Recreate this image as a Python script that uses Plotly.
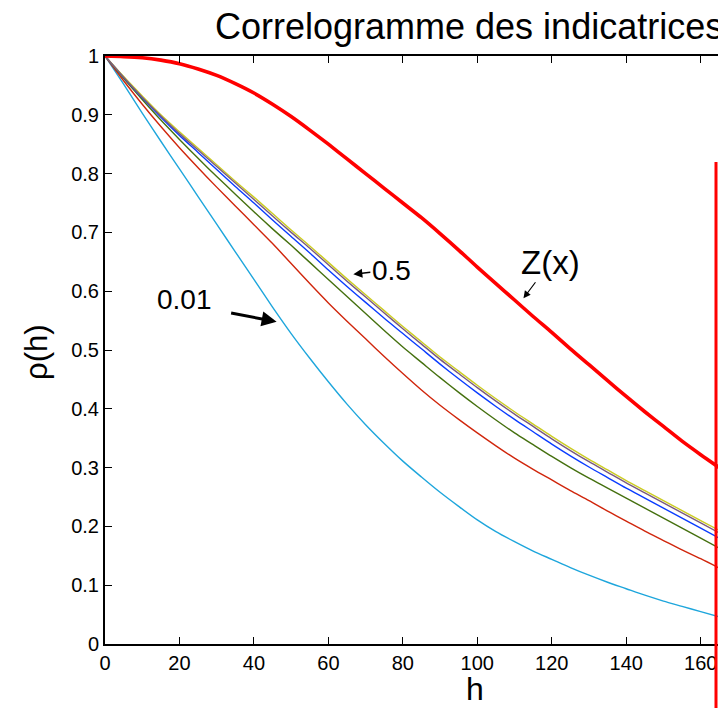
import plotly.graph_objects as go

h = list(range(0, 170, 5))

z_x = [1.0, 0.999, 0.997, 0.993, 0.987, 0.978, 0.967, 0.953, 0.937, 0.918, 0.897, 0.874,
       0.850, 0.825, 0.800, 0.775, 0.750, 0.725, 0.698, 0.670, 0.641, 0.613, 0.585, 0.557,
       0.530, 0.502, 0.475, 0.448, 0.421, 0.395, 0.370, 0.345, 0.322, 0.300]

ind_050 = [1.0, 0.965, 0.932, 0.900, 0.871, 0.843, 0.815, 0.787, 0.760, 0.732, 0.704, 0.677,
           0.649, 0.621, 0.594, 0.567, 0.540, 0.514, 0.488, 0.464, 0.440, 0.417, 0.395, 0.374,
           0.353, 0.333, 0.314, 0.296, 0.278, 0.261, 0.244, 0.227, 0.210, 0.193]

ind_040 = [1.0, 0.964, 0.930, 0.898, 0.868, 0.840, 0.812, 0.784, 0.756, 0.728, 0.700, 0.673,
           0.645, 0.617, 0.590, 0.563, 0.536, 0.510, 0.484, 0.460, 0.436, 0.413, 0.391, 0.370,
           0.349, 0.329, 0.310, 0.292, 0.274, 0.257, 0.240, 0.223, 0.206, 0.189]

ind_025 = [1.0, 0.964, 0.929, 0.896, 0.865, 0.836, 0.807, 0.778, 0.750, 0.721, 0.693, 0.665,
           0.636, 0.608, 0.581, 0.554, 0.528, 0.502, 0.476, 0.451, 0.427, 0.404, 0.382, 0.361,
           0.340, 0.320, 0.301, 0.283, 0.265, 0.248, 0.231, 0.214, 0.197, 0.180]

ind_010 = [1.0, 0.962, 0.926, 0.891, 0.858, 0.826, 0.795, 0.765, 0.735, 0.706, 0.678, 0.649,
           0.620, 0.591, 0.562, 0.533, 0.505, 0.479, 0.453, 0.428, 0.404, 0.381, 0.359, 0.339,
           0.319, 0.300, 0.282, 0.265, 0.248, 0.231, 0.214, 0.197, 0.180, 0.163]

ind_005 = [1.0, 0.958, 0.918, 0.880, 0.844, 0.810, 0.777, 0.745, 0.713, 0.681, 0.647, 0.613,
           0.580, 0.549, 0.519, 0.489, 0.460, 0.432, 0.406, 0.382, 0.359, 0.337, 0.316, 0.297,
           0.279, 0.261, 0.244, 0.226, 0.209, 0.192, 0.176, 0.160, 0.145, 0.129]

ind_001 = [1.0, 0.952, 0.903, 0.855, 0.808, 0.761, 0.714, 0.667, 0.620, 0.573, 0.528, 0.486,
           0.446, 0.408, 0.373, 0.341, 0.311, 0.284, 0.258, 0.234, 0.211, 0.191, 0.174, 0.158,
           0.144, 0.130, 0.117, 0.105, 0.094, 0.083, 0.073, 0.064, 0.055, 0.046]

x_ticks = [0, 20, 40, 60, 80, 100, 120, 140, 160]
y_ticks = [0, 0.1, 0.2, 0.3, 0.4, 0.5, 0.6, 0.7, 0.8, 0.9, 1]

series = [
    ("0.01", ind_001, "#1ea6dc", 1.4),
    ("0.05", ind_005, "#d0260c", 1.4),
    ("0.1", ind_010, "#45700f", 1.4),
    ("0.25", ind_025, "#0a3cff", 1.4),
    ("0.5", ind_050, "#cccc22", 1.4),
    ("0.4", ind_040, "#7a5a80", 1.4),
    ("Z(x)", z_x, "#ff0000", 3.6),
]

FONT = "Arial, Liberation Sans, sans-serif"

fig = go.Figure()
for name, vals, col, w in series:
    fig.add_trace(go.Scatter(x=h, y=vals, mode="lines", name=name,
                             line=dict(color=col, width=w, shape="spline", smoothing=0.8),
                             showlegend=False))

fig.update_layout(
    width=718, height=708,
    margin=dict(l=105, r=0, t=56, b=64),
    paper_bgcolor="white", plot_bgcolor="white",
    font=dict(family=FONT, color="black", size=20),
    showlegend=False,
)

fig.update_xaxes(range=[0, 164.65], tickvals=x_ticks, ticks="inside", ticklen=7,
                 tickwidth=1, tickcolor="black", showline=True, linecolor="black",
                 linewidth=2, mirror="ticks", showgrid=False, zeroline=False,
                 tickfont=dict(size=20, family=FONT))
fig.update_yaxes(range=[0, 1], tickvals=y_ticks, ticks="inside", ticklen=7,
                 tickwidth=1, tickcolor="black", showline=True, linecolor="black",
                 linewidth=2, showgrid=False, zeroline=False,
                 tickfont=dict(size=20, family=FONT))

# title and axis labels
fig.add_annotation(text="Correlogramme des indicatrices", xref="paper", yref="paper",
                   x=(213 - 105) / 613, y=(644 - 27) / 588, xanchor="left", yanchor="middle",
                   showarrow=False, font=dict(size=36, family=FONT))
fig.add_annotation(text="h", xref="paper", yref="paper",
                   x=(475 - 105) / 613, y=(644 - 708) / 588, xanchor="center", yanchor="bottom",
                   borderpad=0, showarrow=False, font=dict(size=32, family=FONT))
fig.add_annotation(text="ρ(h)", xref="paper", yref="paper",
                   x=(36 - 105) / 613, y=(644 - 352) / 588, xanchor="center", yanchor="middle",
                   textangle=-90, showarrow=False, font=dict(size=31, family=FONT))

# labels with arrows
fig.add_annotation(text="0.5", x=66.7, y=0.629, xref="x", yref="y", ax=38, ay=-4,
                   xanchor="center", showarrow=True, arrowhead=2, arrowsize=1.2,
                   arrowwidth=1.5, arrowcolor="black", font=dict(size=28, family=FONT),
                   standoff=0)
fig.add_annotation(text="Z(x)", x=112.4, y=0.588, xref="x", yref="y", ax=27, ay=-36,
                   showarrow=True, arrowhead=2, arrowsize=1.2, arrowwidth=1.2,
                   arrowcolor="black", font=dict(size=33, family=FONT), standoff=0)
fig.add_annotation(text="", x=46.1, y=0.548, xref="x", yref="y", ax=-47, ay=-9,
                   showarrow=True, arrowhead=2, arrowsize=1, arrowwidth=3,
                   arrowcolor="black", standoff=0)
fig.add_annotation(text="0.01", xref="paper", yref="paper",
                   x=(184 - 105) / 613, y=(644 - 299) / 588, xanchor="center", yanchor="middle",
                   showarrow=False, font=dict(size=28, family=FONT))

# red vertical bar at the right edge
fig.add_shape(type="line", xref="paper", yref="paper",
              x0=(716 - 105) / 613, x1=(716 - 105) / 613,
              y0=(644 - 162) / 588, y1=(644 - 710) / 588,
              line=dict(color="#ff0000", width=3))

fig.write_html("out.html")
